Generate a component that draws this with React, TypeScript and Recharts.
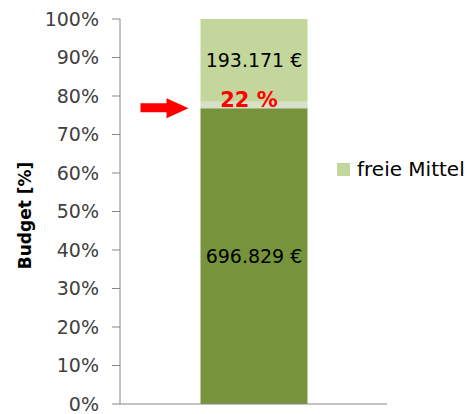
import { BarChart, Bar, XAxis, YAxis, Legend, LabelList, Label } from "recharts";

// shares of the budget in percent
const positions = [1];
const boundShare = [76.8];
const markerShare = [1.7];
const freeShare = [21.5];

const boundLabels = ["696.829 €"];
const freeLabels = ["193.171 €"];
const markerLabels = ["22 %"];

const yTicks = [0, 10, 20, 30, 40, 50, 60, 70, 80, 90, 100];
const xTicks = [0, 2];

const data = positions.map((x, i) => ({
  x,
  gebunden: boundShare[i],
  marker: markerShare[i],
  frei: freeShare[i],
  boundLabel: boundLabels[i],
  freeLabel: freeLabels[i],
  markerLabel: markerLabels[i],
}));

const FONT = "DejaVu Sans";

function MarkerLabel(props: any) {
  const { x, y, width, height, value } = props;
  const bottom = y + height;
  const tipX = x - 12;
  return (
    <g>
      <text
        x={x + width / 2 - 5}
        y={bottom - 1}
        textAnchor="middle"
        fill="#FF0000"
        fontWeight="bold"
        fontSize={21}
        fontFamily={FONT}
      >
        {value}
      </text>
      <polygon
        points={`${tipX - 48},${bottom - 5} ${tipX - 22},${bottom - 5} ${tipX - 22},${bottom - 10} ${tipX},${bottom} ${tipX - 22},${bottom + 10} ${tipX - 22},${bottom + 4} ${tipX - 48},${bottom + 4}`}
        fill="#FF0000"
      />
    </g>
  );
}

function LegendBox(props: any) {
  const items = (props.payload || []).filter((p: any) => p.value === "freie Mittel");
  return (
    <div>
      {items.map((p: any) => (
        <div key={p.value} style={{ display: "flex", alignItems: "center", fontFamily: FONT, fontSize: 20, color: "#000" }}>
          <span style={{ width: 13, height: 13, background: p.color, display: "inline-block", marginRight: 7 }} />
          {p.value}
        </div>
      ))}
    </div>
  );
}

export default function App() {
  return (
    <div style={{ position: "absolute", left: 0, top: 0 }}>
      <BarChart
        width={470}
        height={414}
        data={data}
        margin={{ top: 19, right: 83, bottom: 0, left: 0 }}
        style={{ fontFamily: FONT }}
      >
        <XAxis
          type="number"
          dataKey="x"
          domain={[0, 2]}
          ticks={xTicks}
          tick={false}
          tickSize={8}
          height={10}
          axisLine={{ stroke: "#868686" }}
          tickLine={{ stroke: "#868686" }}
        />
        <YAxis
          domain={[0, 100]}
          ticks={yTicks}
          interval={0}
          width={120}
          tickFormatter={(v) => `${v}%`}
          tick={{ fill: "#404040", fontSize: 19, fontFamily: FONT }}
          tickSize={8}
          tickMargin={13}
          axisLine={{ stroke: "#868686" }}
          tickLine={{ stroke: "#868686" }}
        >
          <Label
            value="Budget [%]"
            angle={-90}
            position="insideLeft"
            offset={25}
            dy={4}
            style={{ textAnchor: "middle", fontWeight: "bold", fontSize: 17, fill: "#000", fontFamily: FONT }}
          />
        </YAxis>
        <Legend
          layout="horizontal"
          align="center"
          verticalAlign="middle"
          content={<LegendBox />}
          wrapperStyle={{ left: 337, top: 157, width: 133 }}
        />
        <Bar dataKey="gebunden" stackId="a" fill="#77933C" barSize={107} legendType="none" isAnimationActive={false}>
          <LabelList dataKey="boundLabel" position="center" fill="#000" fontSize={19} fontFamily={FONT} />
        </Bar>
        <Bar dataKey="marker" stackId="a" fill="#D7E0C8" barSize={107} legendType="none" isAnimationActive={false}>
          <LabelList dataKey="markerLabel" content={<MarkerLabel />} />
        </Bar>
        <Bar dataKey="frei" name="freie Mittel" stackId="a" fill="#C3D69B" barSize={107} isAnimationActive={false}>
          <LabelList dataKey="freeLabel" position="center" fill="#000" fontSize={19} fontFamily={FONT} />
        </Bar>
      </BarChart>
    </div>
  );
}
